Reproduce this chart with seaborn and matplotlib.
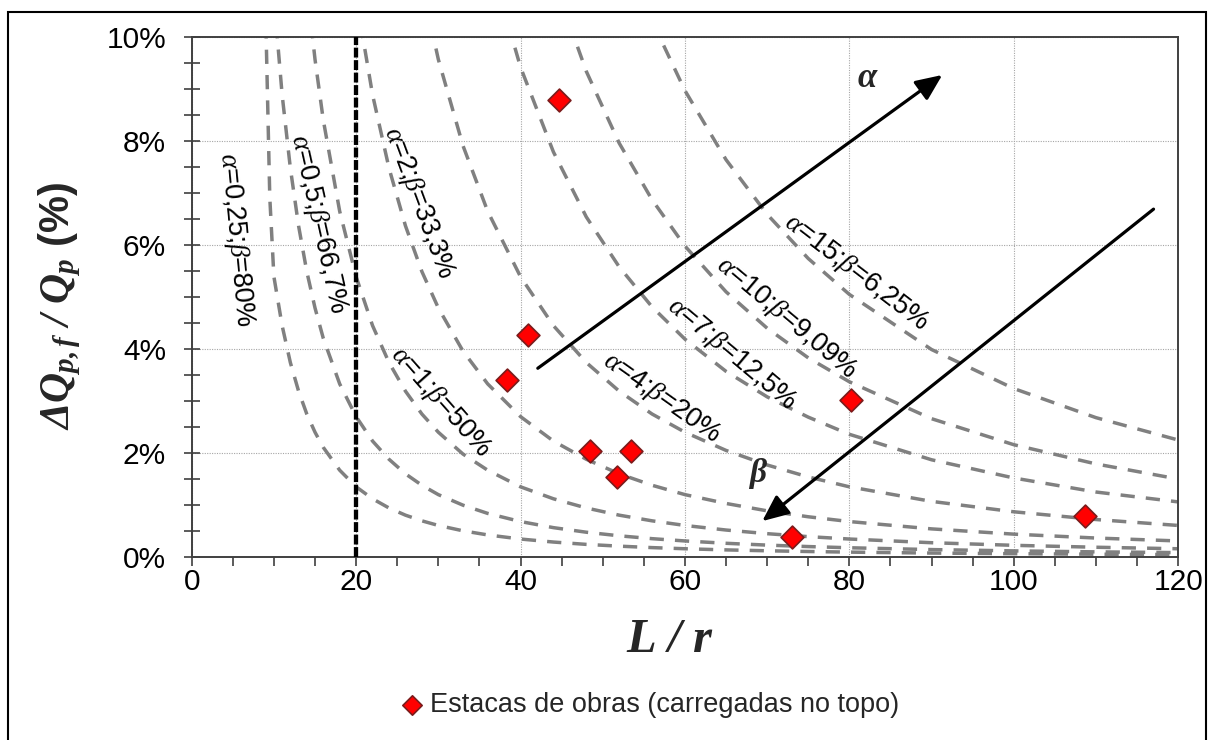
import numpy as np
import pandas as pd
import matplotlib
matplotlib.use("Agg")
import matplotlib.pyplot as plt
from matplotlib.ticker import MultipleLocator, PercentFormatter
from matplotlib.patches import Rectangle
import seaborn as sns

nan = np.nan

# Slenderness ratio L/r at which the design curves are tabulated
lr_grid = [7, 8, 9, 9.5, 10, 11, 12, 13, 14, 15, 16, 18, 20, 22, 24, 26, 28, 30,
           33, 36, 40, 44, 48, 52, 56, 60, 65, 70, 75, 80, 90, 100, 110, 120]

# ΔQp,f / Qp (%) along each alpha curve
curve_a0_25 = [30, 20, 10.4, 6.9, 5.38, 4.44, 3.73, 3.18, 2.74, 2.39, 2.10, 1.66,
               1.34, 1.11, 0.933, 0.795, 0.686, 0.597, 0.494, 0.415, 0.336, 0.278,
               0.233, 0.199, 0.171, 0.149, 0.127, 0.110, 0.096, 0.084, 0.066,
               0.054, 0.044, 0.037]
curve_a0_5 = [nan, 16.8, 13.3, 11.9, 10.75, 8.88, 7.47, 6.36, 5.48, 4.78, 4.20,
              3.32, 2.69, 2.22, 1.87, 1.59, 1.37, 1.19, 0.987, 0.829, 0.672, 0.555,
              0.467, 0.398, 0.343, 0.299, 0.254, 0.219, 0.191, 0.168, 0.133,
              0.108, 0.089, 0.075]
curve_a1 = [nan] * 5 + [17.8, 14.9, 12.7, 11.0, 9.56, 8.40, 6.64, 5.38, 4.44, 3.73,
                        3.18, 2.74, 2.39, 1.97, 1.66, 1.34, 1.11, 0.933, 0.795,
                        0.686, 0.597, 0.509, 0.439, 0.382, 0.336, 0.265, 0.215,
                        0.178, 0.149]
curve_a2 = [nan] * 9 + [19.1, 16.8, 13.3, 10.75, 8.88, 7.47, 6.36, 5.48, 4.78,
                        3.95, 3.32, 2.69, 2.22, 1.87, 1.59, 1.37, 1.19, 1.02,
                        0.878, 0.764, 0.672, 0.531, 0.430, 0.355, 0.299]
curve_a4 = [nan] * 13 + [17.8, 14.9, 12.7, 11.0, 9.56, 7.90, 6.64, 5.38, 4.44,
                         3.73, 3.18, 2.74, 2.39, 2.04, 1.76, 1.53, 1.34, 1.06,
                         0.860, 0.711, 0.597]
curve_a7 = [nan] * 14 + [26.1, 22.3, 19.2, 16.7, 13.8, 11.6, 9.41, 7.78, 6.53,
                         5.57, 4.80, 4.18, 3.56, 3.07, 2.68, 2.35, 1.86, 1.51,
                         1.24, 1.05]
curve_a10 = [nan] * 17 + [23.9, 19.7, 16.6, 13.4, 11.1, 9.33, 7.95, 6.86, 5.97,
                          5.09, 4.39, 3.82, 3.36, 2.65, 2.15, 1.78, 1.49]
curve_a15 = [nan] * 19 + [24.9, 20.2, 16.7, 14.0, 11.9, 10.3, 8.96, 7.63, 6.58,
                          5.73, 5.04, 3.98, 3.23, 2.67, 2.24]

alpha_values = [0.25, 0.5, 1, 2, 4, 7, 10, 15]
curve_labels = [r"$\alpha$=0,25;$\beta$=80%", r"$\alpha$=0,5;$\beta$=66,7%",
                r"$\alpha$=1;$\beta$=50%", r"$\alpha$=2;$\beta$=33,3%",
                r"$\alpha$=4;$\beta$=20%", r"$\alpha$=7;$\beta$=12,5%",
                r"$\alpha$=10;$\beta$=9,09%", r"$\alpha$=15;$\beta$=6,25%"]

# Site piles (loaded at the top)
estacas_lr = [44.7, 40.9, 38.4, 48.5, 53.4, 51.7, 80.2, 73.0, 108.7]
estacas_dq = [8.78, 4.26, 3.39, 2.03, 2.02, 1.53, 3.01, 0.38, 0.78]

x_ticks = [0, 20, 40, 60, 80, 100, 120]
y_ticks = [0, 2, 4, 6, 8, 10]

# ---------------------------------------------------------------- style
sns.set_style("white")
plt.rcParams["font.family"] = ["Liberation Sans", "DejaVu Sans"]
plt.rcParams["mathtext.fontset"] = "custom"
plt.rcParams["mathtext.rm"] = "Liberation Serif"
plt.rcParams["mathtext.it"] = "Liberation Serif:italic"
plt.rcParams["mathtext.bf"] = "Liberation Serif:bold"
plt.rcParams["mathtext.bfit"] = "Liberation Serif:bold:italic"

W, H = 1211, 740
fig = plt.figure(figsize=(W / 100, H / 100), dpi=100)
ax = fig.add_axes([191.7 / W, 1 - 556.5 / H, (1178.2 - 191.7) / W, (556.5 - 36.5) / H])

# ---------------------------------------------------------------- curves
curves = [curve_a0_25, curve_a0_5, curve_a1, curve_a2, curve_a4, curve_a7,
          curve_a10, curve_a15]
frames = []
for a, vals in zip(alpha_values, curves):
    frames.append(pd.DataFrame({"lr": lr_grid, "dq": vals, "alpha": a}))
curves_df = pd.concat(frames, ignore_index=True).dropna()

sns.lineplot(data=curves_df, x="lr", y="dq", units="alpha", estimator=None,
             sort=False, color="#808080", linewidth=2.5,
             linestyle=(0, (4.1, 3.2)), legend=False, ax=ax, zorder=2)

ax.axvline(20, color="black", linewidth=3.1, linestyle=(0, (2.3, 0.6)), zorder=3)

sns.scatterplot(x=estacas_lr, y=estacas_dq, marker="D", s=135, color="#FF0000",
                edgecolor="#7A1C1C", linewidth=1.2, zorder=6, ax=ax,
                label="Estacas de obras (carregadas no topo)")

# ---------------------------------------------------------------- curve labels
label_pos = [(5.4, 6.09, -84.6), (15.4, 6.39, -77.4), (30.3, 2.97, -48.6),
             (27.6, 6.80, -69.6), (57.1, 3.05, -35.3), (65.7, 3.88, -40.0),
             (72.4, 4.58, -40.0), (80.9, 5.45, -37.5)]
for text, (lx, ly, rot) in zip(curve_labels, label_pos):
    ax.text(lx, ly, text, rotation=rot, rotation_mode="anchor", ha="center",
            va="center", fontsize=19.5, color="black", zorder=4)

# direction arrows for alpha and beta
arrow_kw = dict(arrowstyle="-|>,head_length=0.5,head_width=0.22", color="black",
                lw=2.3, mutation_scale=32, shrinkA=0, shrinkB=0)
ax.annotate("", xy=(91.3, 9.26), xytext=(42.1, 3.62), arrowprops=arrow_kw, zorder=5)
ax.annotate("", xy=(69.4, 0.68), xytext=(117.0, 6.68), arrowprops=arrow_kw, zorder=5)
ax.text(82.2, 9.2, "α", fontfamily="Liberation Serif", fontstyle="italic",
        fontweight="bold", fontsize=25, ha="center", va="center")
ax.text(68.8, 1.6, "β", fontfamily="Liberation Serif", fontstyle="italic",
        fontweight="bold", fontsize=24, ha="center", va="center")

# ---------------------------------------------------------------- axes
ax.set_xlim(0, 120)
ax.set_ylim(0, 10)
ax.set_xticks(x_ticks)
ax.set_yticks(y_ticks)
ax.xaxis.set_minor_locator(MultipleLocator(5))
ax.yaxis.set_minor_locator(MultipleLocator(0.5))
ax.yaxis.set_major_formatter(PercentFormatter(xmax=100, decimals=0))
ax.set_xlabel("")
ax.set_ylabel("")

ax.grid(True, which="major", linestyle=(0, (1, 1.2)), color="#a6a6a6",
        linewidth=0.8, zorder=0)
ax.set_axisbelow(True)
for sp in ax.spines.values():
    sp.set_visible(True)
    sp.set_color("#404040")
    sp.set_linewidth(1.4)

ax.tick_params(axis="y", which="both", direction="inout", length=12, width=1.2,
               color="#404040", pad=12.5, labelsize=21.5, labelcolor="black",
               left=True)
ax.tick_params(axis="x", which="both", direction="out", length=6.5, width=1.2,
               color="#404040", pad=1.5, labelsize=21.5, labelcolor="black",
               bottom=True)

fig.text(60 / W, 1 - 306 / H, r"$\mathbfit{\Delta Q_{p,f}\ /\ Q_p}$ (%)",
         rotation=90, ha="center", va="center", fontsize=30, fontweight="bold")
fig.text(670 / W, 1 - 640 / H, r"$\mathbfit{L\ /\ r}$", ha="center",
         va="center", fontsize=35)

# legend below the plot
handles, labels = ax.get_legend_handles_labels()
ax.get_legend().remove()
fig.legend(handles, labels, loc="center left", bbox_to_anchor=(398 / W, 1 - 705 / H),
           frameon=False, fontsize=19.5, handlelength=1.0, handletextpad=0.18,
           markerscale=0.85, borderaxespad=0, borderpad=0)

# outer frame of the figure
fig.add_artist(Rectangle((8 / W, -0.02), (1206 - 8) / W, 1 - 12 / H + 0.02,
                         transform=fig.transFigure, fill=False,
                         edgecolor="black", linewidth=1.5))

fig.savefig("out.png", dpi=100)
